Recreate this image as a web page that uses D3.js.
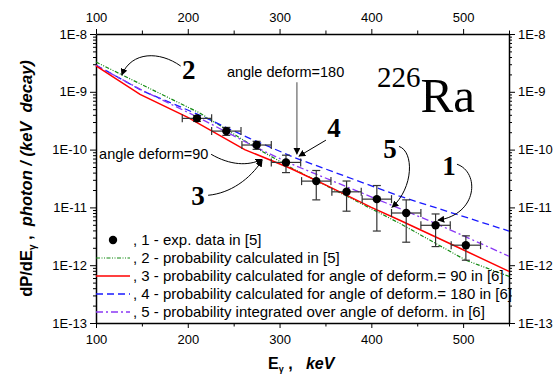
<!DOCTYPE html>
<html lang="en">
<head>
<meta charset="UTF-8">
<title>226Ra photon spectrum</title>
<style>
    html, body { margin: 0; padding: 0; background: #fff; }
    svg { display: block; font-family: "Liberation Sans", Arial, sans-serif; }
</style>
</head>
<body>
<div id="wrapper"></div>
<script src="https://d3js.org/d3.v7.min.js"></script>
<script>
    // experimental points (1)
    const expEnergy = [210, 242, 275, 307, 340, 373, 406, 438, 470, 503];
    const expValue = [3.47e-10, 2.09e-10, 1.2e-10, 6.0e-11, 2.85e-11, 1.86e-11, 1.39e-11, 8.0e-12, 4.9e-12, 2.22e-12];
    const expYErr = [4e-11, 3.3e-11, 1.9e-11, 2.0e-11, 1.5e-11, 1.0e-11, 1.0e-11, 5.5e-12, 2.8e-12, 1.0e-12];
    const expXErr = 16;

    // curve 2 - calculated in [5]
    const calc5Energy = [100, 150, 213, 275, 311, 431, 503, 550];
    const calc5Value = [3.27e-9, 1.33e-9, 4.3e-10, 1.06e-10, 5.0e-11, 5.3e-12, 1.22e-12, 6.4e-13];
    // curve 3 - angle 90
    const calc90Energy = [100, 148, 200, 262, 311, 350, 400, 431, 500, 550];
    const calc90Value = [2.8e-9, 9.0e-10, 3.6e-10, 1.0e-10, 4.8e-11, 2.45e-11, 1.0e-11, 6.0e-12, 1.85e-12, 7.8e-13];
    // curve 4 - angle 180
    const calc180Energy = [100, 150, 213, 268, 317, 431, 550];
    const calc180Value = [2.9e-9, 1.05e-9, 3.95e-10, 1.55e-10, 7.2e-11, 1.56e-11, 3.9e-12];
    // curve 5 - integrated over angle
    const integEnergy = [100, 150, 213, 274, 311, 470, 550];
    const integValue = [2.85e-9, 1.07e-9, 3.5e-10, 1.1e-10, 5.8e-11, 5.3e-12, 1.43e-12];

    const xTicks = [100, 200, 300, 400, 500];
    const yTicks = [1e-8, 1e-9, 1e-10, 1e-11, 1e-12, 1e-13];
    const yTickLabels = ['1E-8', '1E-9', '1E-10', '1E-11', '1E-12', '1E-13'];

    const legendLabels = [
        ', 1 - exp. data in [5]',
        ', 2 - probability calculated in [5]',
        ', 3 - probability calculated for angle of deform.= 90 in [6]',
        ', 4 - probability calculated for angle of deform.= 180 in [6]',
        ', 5 - probability integrated over angle of deform. in [6]'
    ];

    const width = 559, height = 376;
    const margin = { top: 34, right: 50, bottom: 53, left: 96 };

    const svg = d3.select('#wrapper').append('svg')
        .attr('width', width)
        .attr('height', height);

    const x = d3.scaleLinear().domain([100, 550]).range([margin.left, width - margin.right]);
    const y = d3.scaleLog().domain([1e-13, 1e-8]).range([height - margin.bottom, margin.top]);

    // arrow marker
    svg.append('defs').append('marker')
        .attr('id', 'arrow')
        .attr('viewBox', '0 0 10 10')
        .attr('refX', 9).attr('refY', 5)
        .attr('markerWidth', 7).attr('markerHeight', 7)
        .attr('markerUnits', 'userSpaceOnUse')
        .attr('orient', 'auto')
        .append('path').attr('d', 'M0,0 L10,5 L0,10 z').attr('fill', '#000');

    // minor ticks
    const xMinor = d3.range(150, 551, 100);
    const yMinor = [];
    for (let e = -13; e < -8; e++) for (let m = 2; m <= 9; m++) yMinor.push(m * Math.pow(10, e));

    function styleAxis(g) {
        g.select('.domain').attr('stroke', '#000').attr('stroke-width', 1.5);
        g.selectAll('.tick line').attr('stroke', '#000').attr('stroke-width', 1);
        g.selectAll('.tick text').attr('fill', '#000').style('font-size', '13px')
            .style('font-family', '"Liberation Sans", Arial, sans-serif');
    }
    function minorTicks(g) {
        g.select('.domain').remove();
        g.selectAll('line').attr('stroke', '#000');
    }

    // x axes
    const xB = svg.append('g').attr('transform', `translate(0,${height - margin.bottom})`)
        .call(d3.axisBottom(x).tickValues(xTicks).tickSize(5).tickSizeOuter(0).tickPadding(7).tickFormat(d3.format('d')));
    styleAxis(xB);
    const xT = svg.append('g').attr('transform', `translate(0,${margin.top})`)
        .call(d3.axisTop(x).tickValues(xTicks).tickSize(5).tickSizeOuter(0).tickPadding(7).tickFormat(d3.format('d')));
    styleAxis(xT);
    svg.append('g').attr('transform', `translate(0,${height - margin.bottom})`)
        .call(d3.axisBottom(x).tickValues(xMinor).tickSize(3.5).tickFormat(''))
        .call(minorTicks);
    svg.append('g').attr('transform', `translate(0,${margin.top})`)
        .call(d3.axisTop(x).tickValues(xMinor).tickSize(3.5).tickFormat(''))
        .call(minorTicks);

    // y axes
    const yL = svg.append('g').attr('transform', `translate(${margin.left},0)`)
        .call(d3.axisLeft(y).tickValues(yTicks).tickSize(6).tickSizeOuter(0).tickPadding(3)
            .tickFormat((d, i) => yTickLabels[i]));
    styleAxis(yL);
    const yR = svg.append('g').attr('transform', `translate(${width - margin.right},0)`)
        .call(d3.axisRight(y).tickValues(yTicks).tickSize(6).tickSizeOuter(0).tickPadding(3)
            .tickFormat((d, i) => yTickLabels[i]));
    styleAxis(yR);
    svg.append('g').attr('transform', `translate(${margin.left},0)`)
        .call(d3.axisLeft(y).tickValues(yMinor).tickSize(3).tickFormat(''))
        .call(minorTicks);
    svg.append('g').attr('transform', `translate(${width - margin.right},0)`)
        .call(d3.axisRight(y).tickValues(yMinor).tickSize(3).tickFormat(''))
        .call(minorTicks);

    // curves
    const line = d3.line().x(d => x(d[0])).y(d => y(d[1]));
    const series = [
        { e: calc5Energy, v: calc5Value, color: '#138a13', dash: '4,1.5,1,1.5,1,1.5', w: 1.2 },
        { e: calc180Energy, v: calc180Value, color: '#1a1aff', dash: '7,4', w: 1.3 },
        { e: integEnergy, v: integValue, color: '#8a38f5', dash: '7,3,2,3', w: 1.3 },
        { e: calc90Energy, v: calc90Value, color: '#ff0000', dash: null, w: 1.5 }
    ];
    series.forEach(s => {
        svg.append('path')
            .attr('d', line(s.e.map((e, i) => [e, s.v[i]])))
            .attr('fill', 'none')
            .attr('stroke', s.color)
            .attr('stroke-width', s.w)
            .attr('stroke-dasharray', s.dash);
    });

    // error bars + points
    const errG = svg.append('g').attr('stroke', '#333').attr('stroke-width', 1.2);
    expEnergy.forEach((e, i) => {
        const cx = x(e), cy = y(expValue[i]);
        const y1 = y(expValue[i] - expYErr[i]), y2 = y(expValue[i] + expYErr[i]);
        const x1 = x(e - expXErr), x2 = x(e + expXErr);
        errG.append('line').attr('x1', cx).attr('x2', cx).attr('y1', y1).attr('y2', y2);
        errG.append('line').attr('x1', cx - 4).attr('x2', cx + 4).attr('y1', y1).attr('y2', y1);
        errG.append('line').attr('x1', cx - 4).attr('x2', cx + 4).attr('y1', y2).attr('y2', y2);
        errG.append('line').attr('x1', x1).attr('x2', x2).attr('y1', cy).attr('y2', cy);
        errG.append('line').attr('x1', x1).attr('x2', x1).attr('y1', cy - 4).attr('y2', cy + 4);
        errG.append('line').attr('x1', x2).attr('x2', x2).attr('y1', cy - 4).attr('y2', cy + 4);
    });
    svg.append('g').selectAll('circle')
        .data(expEnergy)
        .join('circle')
        .attr('cx', d => x(d))
        .attr('cy', (d, i) => y(expValue[i]))
        .attr('r', 4.2)
        .attr('fill', '#000');

    // annotations: tip in data coords, everything else as pixel offsets from tip
    const serif = '"Liberation Serif", "Times New Roman", serif';
    function bigNum(txt, px, py) {
        svg.append('text').attr('x', px).attr('y', py).attr('text-anchor', 'middle')
            .style('font-family', serif).style('font-weight', 'bold').style('font-size', '27px')
            .text(txt);
    }
    function arrowPath(d) {
        svg.append('path').attr('d', d).attr('fill', 'none').attr('stroke', '#000')
            .attr('stroke-width', 1).attr('marker-end', 'url(#arrow)');
    }

    // 2
    let tx = x(128), ty = y(1.95e-9);
    bigNum('2', tx + 67, ty + 4);
    arrowPath(`M${tx + 59},${ty - 9} C${tx + 38},${ty - 24} ${tx + 10},${ty - 24} ${tx},${ty}`);

    // angle deform=180 and 4
    tx = x(320); ty = y(7.7e-11);
    svg.append('text').attr('x', tx - 71).attr('y', ty - 79).style('font-size', '14.5px').text('angle deform=180');
    svg.append('line').attr('x1', tx - 1).attr('x2', tx - 1).attr('y1', ty - 74).attr('y2', ty - 2)
        .attr('stroke', '#666').attr('stroke-width', 1.2).attr('marker-end', 'url(#arrow)');
    bigNum('4', tx + 36, ty - 19);
    arrowPath(`M${tx + 28},${ty - 16} L${tx + 1},${ty}`);

    // angle deform=90 and 3
    tx = x(281); ty = y(6.8e-11);
    svg.append('text').attr('x', tx - 163).attr('y', ty).style('font-size', '14.5px').text('angle deform=90');
    arrowPath(`M${tx - 51},${ty - 5} C${tx - 32},${ty + 6} ${tx - 14},${ty + 7} ${tx},${ty}`);
    bigNum('3', tx - 64, ty + 46);
    arrowPath(`M${tx - 54},${ty + 36} C${tx - 32},${ty + 34} ${tx - 12},${ty + 20} ${tx},${ty + 1}`);

    // 5
    tx = x(422.5); ty = y(1.0e-11);
    bigNum('5', tx - 2, ty - 49);
    arrowPath(`M${tx + 7},${ty - 61} C${tx + 22},${ty - 56} ${tx + 22},${ty - 20} ${tx},${ty}`);

    // 1
    tx = x(472.6); ty = y(6.0e-12);
    bigNum('1', tx + 11, ty - 45);
    arrowPath(`M${tx + 19},${ty - 56} C${tx + 42},${ty - 48} ${tx + 40},${ty - 6} ${tx},${ty}`);

    // isotope label
    const iso = svg.append('text').attr('x', 377).attr('y', 112).style('font-family', serif);
    iso.append('tspan').style('font-size', '29px').attr('dy', -25).text('226');
    iso.append('tspan').style('font-size', '49px').attr('dy', 25).text('Ra');

    // axis titles
    const xt = svg.append('text').attr('x', 268).attr('y', 369)
        .style('font-size', '16px').style('font-weight', 'bold')
        .style('white-space', 'pre').attr('xml:space', 'preserve');
    xt.append('tspan').text('E');
    xt.append('tspan').attr('dy', 3).style('font-size', '9px').text('γ');
    xt.append('tspan').attr('dy', -3).text(' ,   ');
    xt.append('tspan').style('font-style', 'italic').text('keV');

    const yt = svg.append('text')
        .attr('transform', `translate(32,${(margin.top + height - margin.bottom) / 2}) rotate(-90)`)
        .attr('text-anchor', 'middle')
        .style('font-size', '16.5px').style('font-weight', 'bold')
        .style('white-space', 'pre').attr('xml:space', 'preserve');
    yt.append('tspan').text('dP/dE');
    yt.append('tspan').attr('dy', 4).style('font-size', '10px').text('γ');
    yt.append('tspan').attr('dy', -4).text(' ,  ');
    yt.append('tspan').style('font-style', 'italic').text('photon / (keV  decay)');

    // legend
    const lg = svg.append('g');
    const rowY = i => 240 + i * 18;
    lg.append('circle').attr('cx', 113).attr('cy', rowY(0)).attr('r', 4.2).attr('fill', '#000');
    const legendSeries = [series[0], series[3], series[1], series[2]];
    legendSeries.forEach((s, i) => {
        lg.append('line').attr('x1', 96).attr('x2', 130)
            .attr('y1', rowY(i + 1)).attr('y2', rowY(i + 1))
            .attr('stroke', s.color).attr('stroke-width', s.w).attr('stroke-dasharray', s.dash);
    });
    legendLabels.forEach((t, i) => {
        lg.append('text').attr('x', 133).attr('y', rowY(i) + 5)
            .style('font-size', '15px').text(t);
    });
</script>
</body>
</html>
